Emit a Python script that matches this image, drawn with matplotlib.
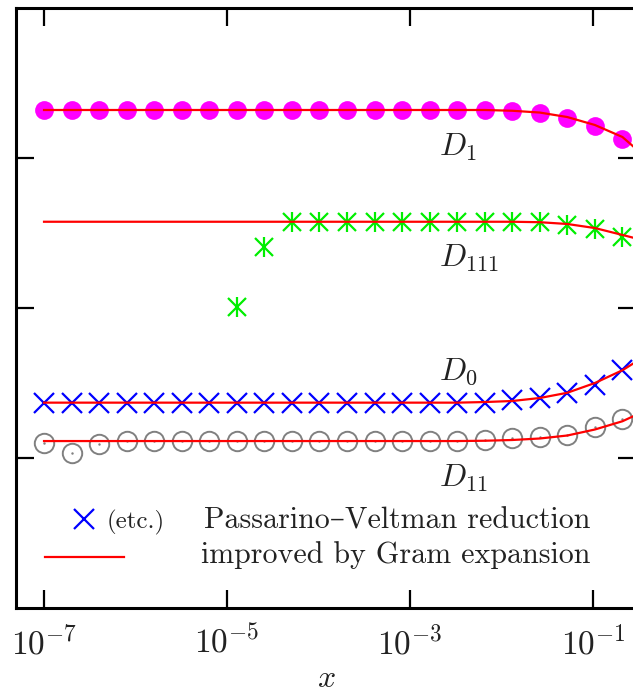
import numpy as np
import matplotlib
matplotlib.use("Agg")
from matplotlib import pyplot as plt

plt.rcParams['font.family'] = ['cmr10', 'DejaVu Serif']
plt.rcParams['mathtext.fontset'] = 'cm'
plt.rcParams['axes.formatter.use_mathtext'] = True

# x = 1e-7 * 2^k, k = 0..21 (markers); red curves go one step further
k = np.arange(22)
x = 1e-7 * 2.0**k
xr = 1e-7 * 2.0**np.arange(23)

nan = np.nan
D1_pv = [3.32]*17 + [3.313, 3.30, 3.267, 3.213, 3.127]
D1_gram = [3.32]*17 + [3.315, 3.303, 3.273, 3.22, 3.14, 2.98]

D111_pv = [nan]*7 + [2.007, 2.409] + [2.575]*9 + [2.571, 2.553, 2.525, 2.475]
D111_gram = [2.575]*18 + [2.572, 2.56, 2.533, 2.487, 2.44]

D0_pv = [1.369]*17 + [1.387, 1.398, 1.431, 1.487, 1.59]
D0_gram = [1.369]*16 + [1.373, 1.38, 1.40, 1.435, 1.50, 1.585, 1.70]

D11_pv = [1.098, 1.035, 1.093, 1.113] + [1.115]*12 + [1.12, 1.131, 1.138, 1.155, 1.205, 1.258]
D11_gram = [1.113]*16 + [1.115, 1.12, 1.13, 1.15, 1.19, 1.245, 1.33]

labels = [r'$D_1$', r'$D_{111}$', r'$D_0$', r'$D_{11}$']
label_y = [3.073, 2.333, 1.573, 0.867]

fig = plt.figure(figsize=(6.33, 6.96), dpi=100)
ax = fig.add_axes([16/633, 88/696, 620/633, 600/696])

red = '#ff0000'
for yg in [D1_gram, D111_gram, D0_gram, D11_gram]:
    ax.plot(xr, yg, color=red, lw=1.6, zorder=3)

ax.plot(x, D1_pv, 'o', color='#ff00ff', ms=13.5, mec='none', zorder=2)
ax.plot(x, D111_pv, 'x', color='#00ee00', ms=13, mew=1.6, zorder=2)
ax.plot(x, D111_pv, '|', color='#00ee00', ms=14, mew=1.6, zorder=2)
ax.plot(x, D0_pv, 'x', color='#0000ff', ms=14, mew=1.6, zorder=2)
ax.plot(x, D11_pv, 'o', mfc='none', mec='#808080', ms=14, mew=1.4, zorder=2)
ax.plot(x, D11_pv, '.', color='#808080', ms=1.5, zorder=2)

for lab, ly in zip(labels, label_y):
    ax.text(2.1e-3, ly, lab, fontsize=23, va='center', ha='left', color='#222222')

# legend drawn by hand
def axc(px, py):
    return (px - 16) / 620, (608 - py) / 600

ax.plot(*axc(84, 519), 'x', color='#0000ff', ms=14, mew=1.6, transform=ax.transAxes, clip_on=False)
ax.text(*axc(107, 522), '(etc.)', fontsize=18, va='center', ha='left', transform=ax.transAxes, color='#222222')
ax.text(*axc(590, 521), 'Passarino–Veltman reduction', fontsize=21.6, va='center', ha='right',
        transform=ax.transAxes, color='#222222')
l0 = axc(45, 557); l1 = axc(124, 557)
ax.plot([l0[0], l1[0]], [l0[1], l1[1]], color=red, lw=1.6, transform=ax.transAxes)
ax.text(*axc(590, 555), 'improved by Gram expansion', fontsize=21.6, va='center', ha='right',
        transform=ax.transAxes, color='#222222')

ax.set_xscale('log')
ax.set_xlim(4.94e-8, 0.295)
ax.set_ylim(0, 4)
ax.set_xticks([1e-7, 1e-5, 1e-3, 1e-1])
ax.xaxis.set_minor_locator(matplotlib.ticker.NullLocator())
ax.set_yticks([1, 2, 3])
ax.set_yticklabels([])
ax.tick_params(direction='in', length=13, width=1.6, top=True, right=True, labelsize=24, pad=12,
               colors='black', labelcolor='#222222')
for s in ax.spines.values():
    s.set_linewidth(2.2)
ax.set_xlabel(r'$x$', fontsize=23, labelpad=4, color='#222222')

fig.savefig('out.png', dpi=100)
